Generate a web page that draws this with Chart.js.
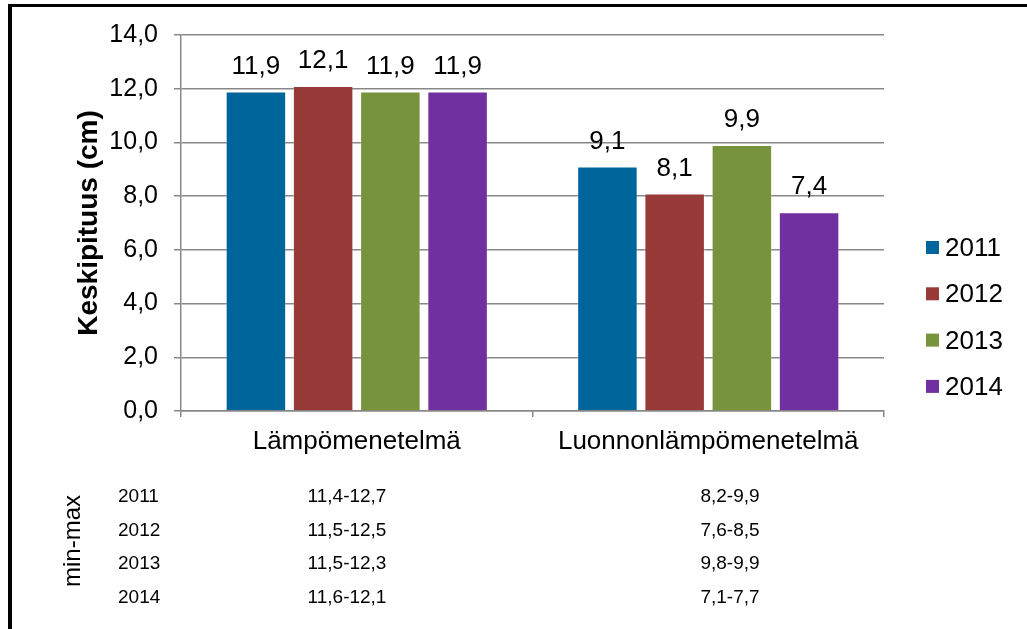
<!DOCTYPE html>
<html lang="fi">
<head>
    <meta charset="UTF-8">
    <title>Keskipituus</title>
    <script src="https://cdn.jsdelivr.net/npm/chart.js"></script>
    <style>
        body { margin: 0; background: #fff; overflow: hidden; }
        #wrap { position: relative; width: 1027px; height: 629px; }
    </style>
</head>
<body>
    <div id="wrap"><canvas id="myChart" width="1027" height="629"></canvas></div>

    <script>
        // Categories and yearly means
        const categories = ['Lämpömenetelmä', 'Luonnonlämpömenetelmä'];
        const years = ['2011', '2012', '2013', '2014'];
        const values2011 = [11.9, 9.1];
        const values2012 = [12.1, 8.1];
        const values2013 = [11.9, 9.9];
        const values2014 = [11.9, 7.4];
        const yTicks = [0, 2, 4, 6, 8, 10, 12, 14];

        // min-max table under the chart
        const rangeLampo = ['11,4-12,7', '11,5-12,5', '11,5-12,3', '11,6-12,1'];
        const rangeLuonnon = ['8,2-9,9', '7,6-8,5', '9,8-9,9', '7,1-7,7'];

        const colors = ['#00659A', '#973A38', '#77933C', '#7030A0'];
        const fontFamily = '"Liberation Sans", Arial, sans-serif';

        const fmt = v => v.toFixed(1).replace('.', ',');

        // Value labels above each bar
        const valueLabels = {
            id: 'valueLabels',
            afterDatasetsDraw(chart) {
                const c = chart.ctx;
                c.save();
                c.fillStyle = '#000';
                c.font = '26px ' + fontFamily;
                c.textAlign = 'center';
                c.textBaseline = 'middle';
                chart.data.datasets.forEach((ds, i) => {
                    chart.getDatasetMeta(i).data.forEach((bar, j) => {
                        c.fillText(fmt(ds.data[j]), bar.x, bar.y - 25);
                    });
                });
                c.restore();
            }
        };

        // Legend, frame and the min-max table
        const extras = {
            id: 'extras',
            afterDraw(chart) {
                const c = chart.ctx;
                c.save();
                // frame
                c.fillStyle = '#000';
                c.fillRect(8, 4, 1019, 3);
                c.fillRect(8, 4, 4, 625);

                // legend
                c.font = '26px ' + fontFamily;
                c.textBaseline = 'middle';
                c.textAlign = 'left';
                chart.data.datasets.forEach((ds, i) => {
                    const y = 248 + i * 46.3;
                    c.fillStyle = ds.backgroundColor;
                    c.fillRect(926, y - 7, 13, 13);
                    c.fillStyle = '#000';
                    c.fillText(ds.label, 945, y + 1);
                });

                // table
                c.font = '19px ' + fontFamily;
                years.forEach((yr, i) => {
                    const y = 497 + i * 33.6;
                    c.textAlign = 'left';
                    c.fillText(yr, 118, y);
                    c.textAlign = 'center';
                    c.fillText(rangeLampo[i], 347, y);
                    c.fillText(rangeLuonnon[i], 730, y);
                });

                c.translate(80, 541);
                c.rotate(-Math.PI / 2);
                c.font = '24px ' + fontFamily;
                c.textAlign = 'center';
                c.textBaseline = 'alphabetic';
                c.fillText('min-max', 0, 0);
                c.restore();
            }
        };

        const seriesValues = [values2011, values2012, values2013, values2014];

        new Chart(document.getElementById('myChart'), {
            type: 'bar',
            data: {
                labels: categories,
                datasets: years.map((yr, i) => ({
                    label: yr,
                    data: seriesValues[i],
                    backgroundColor: colors[i],
                    borderColor: 'rgba(255,255,255,0.3)',
                    borderWidth: 1,
                    categoryPercentage: 0.765,
                    barPercentage: 0.9
                }))
            },
            options: {
                responsive: false,
                animation: false,
                layout: { padding: { left: 72, top: 35, right: 143, bottom: 0 } },
                plugins: {
                    legend: { display: false },
                    tooltip: { enabled: false }
                },
                scales: {
                    x: {
                        afterFit: s => { s.height = 218; },
                        grid: {
                            offset: true,
                            drawOnChartArea: false,
                            color: '#888',
                            lineWidth: 1.5,
                            tickLength: 6
                        },
                        border: { color: '#888', width: 1.5 },
                        ticks: {
                            color: '#000',
                            padding: 9,
                            font: { size: 26, family: fontFamily }
                        }
                    },
                    y: {
                        min: 0,
                        max: 14,
                        afterFit: s => { s.width = 109; },
                        afterBuildTicks: s => { s.ticks = yTicks.map(v => ({ value: v })); },
                        grid: { color: '#888', lineWidth: 1.5, tickLength: 7 },
                        border: { color: '#888', width: 1.5 },
                        ticks: {
                            color: '#000',
                            padding: 16,
                            font: { size: 25, family: fontFamily },
                            callback: v => fmt(v)
                        },
                        title: {
                            display: true,
                            text: 'Keskipituus (cm)',
                            color: '#000',
                            padding: 0,
                            font: { size: 28, weight: 'bold', family: fontFamily }
                        }
                    }
                }
            },
            plugins: [valueLabels, extras]
        });
    </script>
</body>
</html>
